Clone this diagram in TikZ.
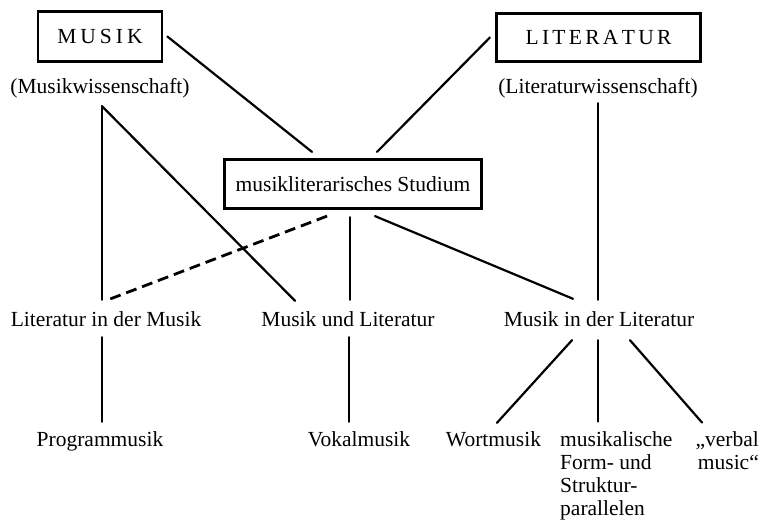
\documentclass[tikz,border=0pt]{standalone}
\usepackage{fontspec}
\setmainfont{Liberation Serif}
\usetikzlibrary{calc}
\begin{document}
\begin{tikzpicture}[x=1pt,y=-1pt,
  every node/.style={font=\fontsize{21.5}{23}\selectfont},
  box/.style={draw,line width=2.7pt,inner sep=0pt},
  lbl/.style={inner sep=0pt,anchor=base,text height=14pt,text depth=5pt},
  multi/.style={inner sep=0pt},
  conn/.style={line width=2.2pt,line cap=round},
  dashconn/.style={line width=2.8pt,line cap=butt,dash pattern=on 11pt off 6pt}]
\useasboundingbox (0,0) rectangle (760,520);
% boxes
\node[box,minimum width=124pt,minimum height=50pt] (musik) at (100,36.5)
  {M\kern4pt U\kern4pt S\kern4pt I\kern4pt K};
\node[box,minimum width=204.5pt,minimum height=48.5pt] (lit) at (598.5,37.5)
  {L\kern3.3pt I\kern3.3pt T\kern3.3pt E\kern3.3pt R\kern3.3pt A\kern3.3pt T\kern3.3pt U\kern3.3pt R};
\node[box,minimum width=257.5pt,minimum height=49.5pt] (stud) at (353,184)
  {musikliterarisches Studium};
% labels
\node[lbl] (musikw) at (100,93) {(Musikwissenschaft)};
\node[lbl] (litw) at (598,93) {(Literaturwissenschaft)};
\node[lbl] (lim) at (106,326) {Literatur in der Musik};
\node[lbl] (mul) at (348,326) {Musik und Literatur};
\node[lbl] (mil) at (599,326) {Musik in der Literatur};
\node[lbl] (prog) at (100,446) {Programmusik};
\node[lbl] (vokal) at (359,446) {Vokalmusik};
\node[lbl] (wort) at (493.5,446) {Wortmusik};
\node[multi,align=left,anchor=north west] (musikal) at (560,431.5)
  {musikalische\\Form- und\\Struktur-\\parallelen};
\node[multi,align=right,anchor=north east] (verbal) at (759,431.5)
  {„verbal\\music“};
% connectors
\draw[conn] ($(musik.east)+(4,0)$) -- ($(stud.north)+(-41,-6)$);
\draw[conn] ($(lit.west)+(-5,0)$) -- ($(stud.north)+(24,-6)$);
\draw[conn] ($(musikw.south)+(2,8)$) -- ($(lim.north)+(-4,-12)$);
\draw[conn] ($(musikw.south)+(2,8)$) -- ($(mul.north)+(-53,-11)$);
\draw[dashconn] ($(stud.south)+(-26,6)$) -- ($(lim.north)+(2,-12)$);
\draw[conn] ($(stud.south)+(-3,7)$) -- ($(mul.north)+(2,-12)$);
\draw[conn] ($(stud.south)+(22,6)$) -- ($(mil.north)+(-26,-13)$);
\draw[conn] ($(litw.south)+(0,5)$) -- ($(mil.north)+(-1,-12)$);
\draw[conn] ($(lim.south)+(-4,6)$) -- ($(prog.north)+(2,-10)$);
\draw[conn] ($(mul.south)+(1,6)$) -- ($(vokal.north)+(-10,-10)$);
\draw[conn] ($(mil.south)+(-27,9)$) -- ($(wort.north)+(3.5,-9)$);
\draw[conn] ($(mil.south)+(-1,9)$) -- ($(musikal.north west)+(38,-10)$);
\draw[conn] ($(mil.south)+(31,9)$) -- ($(verbal.north east)+(-57,-9)$);
\end{tikzpicture}
\end{document}
